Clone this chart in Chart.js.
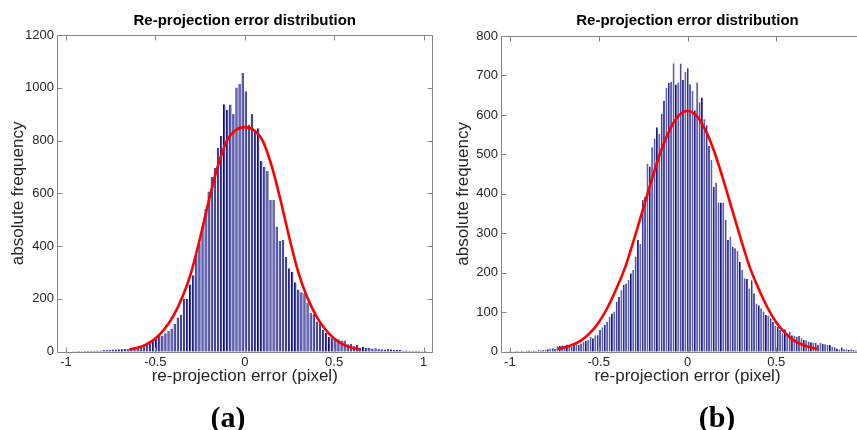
<!DOCTYPE html>
<html><head><meta charset="utf-8">
<script src="https://cdn.jsdelivr.net/npm/chart.js@4.4.1/dist/chart.umd.min.js"></script>
<style>
html,body{margin:0;padding:0;width:857px;height:430px;overflow:hidden;background:#fff;}
#ca{position:absolute;left:0;top:0;width:460px;height:430px;}
#cb{position:absolute;left:430px;top:0;width:460px;height:430px;}
.lbl{position:absolute;font-family:"Liberation Serif","Times New Roman",serif;font-weight:bold;font-size:30px;color:#000;transform:translate(-50%,-50%);line-height:1;white-space:nowrap;}
</style></head><body>
<canvas id="ca" width="460" height="430"></canvas>
<canvas id="cb" width="460" height="430"></canvas>
<div class="lbl" style="left:228px;top:417px">(a)</div>
<div class="lbl" style="left:717px;top:417px">(b)</div>
<script>
// ---- texts ----
const titleText = 'Re-projection error distribution';
const xTitleText = 're-projection error (pixel)';
const yTitleText = 'absolute frequency';

// ---- tick values / labels ----
const xTickValues = [-1, -0.5, 0, 0.5, 1];
const xTickLabels = ['-1', '-0.5', '0', '0.5', '1'];
const yTickValuesA = [0, 200, 400, 600, 800, 1000, 1200];
const yTickLabelsA = ['0', '200', '400', '600', '800', '1000', '1200'];
const yTickValuesB = [0, 100, 200, 300, 400, 500, 600, 700, 800];
const yTickLabelsB = ['0', '100', '200', '300', '400', '500', '600', '700', '800'];

// ---- histogram (a): bins ----
const firstBinA = -0.9962;
const binWidthA = 0.01728;
const countsA = [
  2,1,2,2,3,2,3,3,
  4,4,5,5,6,6,
  7,8,8,9,9,10,
  10,11,12,15,18,22,27,
  38,45,55,62,60,70,78,88,105,130,140,
  200,200,255,290,366,411,474,541,607,663,
  697,773,818,938,917,937,901,1001,1014,
  1056,
  987,860,902,842,847,723,700,685,575,575,
  474,419,423,360,316,303,263,236,225,221,
  186,148,143,114,108,82,72,57,51,44,
  47,42,42,28,30,21,25,15,18,14,
  15,12,13,10,9,8,10,9,7,6,
  7,4,5,4,3,4,3,2,3
];
// fitted curve (a)
const fitXA = [-0.645,-0.6,-0.55,-0.5,-0.45,-0.4,-0.35,-0.3,-0.25,-0.2,-0.15,-0.1,-0.05,0,0.05,0.1,0.15,0.2,0.25,0.3,0.35,0.4,0.45,0.5,0.55,0.6,0.645];
const fitYA = [8,15,28,50,85,135,205,300,430,575,705,800,840,851,840,800,705,575,430,300,205,135,85,50,28,15,8];

// ---- histogram (b): bins ----
const firstBinB = -0.9988;
const binWidthB = 0.01334;
const countsB = [
  2,1,1,2,1,2,1,2,3,2,
  3,2,4,3,5,4,6,8,9,7,
  14,15,16,14,18,13,13,17,25,17,
  21,25,27,30,38,34,42,42,55,62,
  68,76,89,97,102,127,139,156,169,173,
  182,199,207,241,283,273,385,393,477,469,
  518,540,569,552,603,635,668,681,684,731,
  677,682,730,689,709,718,678,661,612,682,
  632,644,589,574,521,486,418,428,378,378,
  378,334,283,292,266,262,256,228,207,186,
  184,160,181,148,122,118,110,102,93,91,
  85,76,66,63,55,47,57,47,51,42,
  40,38,40,34,30,29,26,24,23,22,
  17,22,20,19,17,17,13,11,8,6,
  11,6,6,4,6,4,3
];
const fitXB = [-0.73,-0.7,-0.65,-0.6,-0.55,-0.5,-0.45,-0.4,-0.35,-0.3,-0.25,-0.2,-0.15,-0.1,-0.05,0,0.05,0.1,0.15,0.2,0.25,0.3,0.35,0.4,0.45,0.5,0.55,0.6,0.65,0.7,0.73];
const fitYB = [7,10,17,28,47,74,112,160,215,286,362,438,508,562,598,610,598,562,508,438,362,286,215,160,112,74,47,28,17,10,7];

// ---- styling ----
const FONT = '"Liberation Sans", Arial, Helvetica, sans-serif';
const BOX = '#858585';

const boxPlugin = {
  id: 'boxTicks',
  afterDatasetsDraw(chart) {
    const {ctx, chartArea: a, scales} = chart;
    const L = Math.round(a.left) + 0.5, R = Math.round(a.right) - 0.5;
    const T = Math.round(a.top) + 0.5, B = Math.round(a.bottom) + 0.5;
    const len = 5;
    ctx.save();
    ctx.strokeStyle = BOX;
    ctx.lineWidth = 1;
    ctx.beginPath();
    ctx.rect(L, T, R - L, B - T);
    scales.x.ticks.forEach(t => {
      const p = Math.round(scales.x.getPixelForValue(t.value)) + 0.5;
      ctx.moveTo(p, T); ctx.lineTo(p, T + len);
      ctx.moveTo(p, B); ctx.lineTo(p, B - len);
    });
    scales.y.ticks.forEach(t => {
      const p = Math.round(scales.y.getPixelForValue(t.value)) + 0.5;
      ctx.moveTo(L, p); ctx.lineTo(L + len, p);
      ctx.moveTo(R, p); ctx.lineTo(R - len, p);
    });
    ctx.stroke();
    ctx.restore();
  }
};

function makeChart(id, cfg) {
  const bars = cfg.counts.map((v, k) => ({x: cfg.firstBin + k * cfg.binWidth, y: v}));
  const fit = cfg.fitX.map((x, k) => ({x: x, y: cfg.fitY[k]}));
  return new Chart(document.getElementById(id), {
    type: 'bar',
    data: {
      datasets: [
        {
          type: 'line', data: fit, xAxisID: 'x', yAxisID: 'y',
          borderColor: '#ff0000', borderWidth: 2.6, pointRadius: 0,
          cubicInterpolationMode: 'monotone', fill: false, order: 0
        },
        {
          type: 'bar', data: bars, xAxisID: 'x', yAxisID: 'y',
          backgroundColor: '#4545a3', borderColor: '#000078',
          borderWidth: {left: 1, top: 0, right: 0, bottom: 0}, borderSkipped: false,
          barPercentage: 1, categoryPercentage: 0.8, order: 1
        }
      ]
    },
    options: {
      responsive: false, animation: false, devicePixelRatio: 1,
      layout: {padding: {left: 0, right: cfg.padRight, top: 0, bottom: 43.1}},
      plugins: {legend: {display: false}, tooltip: {enabled: false}, title: {display: false}},
      scales: {
        x: {
          type: 'linear', position: 'bottom', min: -1.05, max: 1.05, offset: false,
          grid: {display: false, drawTicks: false, offset: false}, border: {display: false},
          afterBuildTicks(s) { s.ticks = xTickValues.map(v => ({value: v})); },
          ticks: {autoSkip: false, maxRotation: 0, padding: 3, color: '#262626',
                  font: {family: FONT, size: 13},
                  callback: (v, i) => xTickLabels[i]},
          title: {display: true, text: xTitleText, color: '#262626',
                  font: {family: FONT, size: 17}, padding: {top: 0, bottom: 0}},
          afterFit(s) { s.height = 35.2; }
        },
        xTop: {
          type: 'linear', position: 'top', min: -1.05, max: 1.05, offset: false,
          grid: {display: false, drawTicks: false}, border: {display: false},
          ticks: {display: false},
          title: {display: true, text: titleText, color: '#000',
                  font: {family: FONT, size: 15, weight: 'bold'}, padding: {top: 12, bottom: 0}},
          afterFit(s) { s.height = cfg.top; }
        },
        y: {
          type: 'linear', position: 'left', min: 0, max: cfg.yMax,
          grid: {display: false, drawTicks: false}, border: {display: false},
          afterBuildTicks(s) { s.ticks = cfg.yTicks.map(v => ({value: v})); },
          ticks: {autoSkip: false, padding: 3, color: '#262626',
                  font: {family: FONT, size: 13},
                  callback: (v, i) => cfg.yLabels[i]},
          title: {display: true, text: yTitleText, color: '#262626',
                  font: {family: FONT, size: 17}, padding: {top: cfg.yTitlePad, bottom: 0}},
          afterFit(s) { s.width = cfg.yWidth; }
        }
      }
    },
    plugins: [boxPlugin]
  });
}

makeChart('ca', {
  counts: countsA, firstBin: firstBinA, binWidth: binWidthA, fitX: fitXA, fitY: fitYA,
  yMax: 1200, yTicks: yTickValuesA, yLabels: yTickLabelsA,
  padRight: 27.5, yWidth: 57, yTitlePad: 7.8, top: 35
});
makeChart('cb', {
  counts: countsB, firstBin: firstBinB, binWidth: binWidthB, fitX: fitXB, fitY: fitYB,
  yMax: 800, yTicks: yTickValuesB, yLabels: yTickLabelsB,
  padRight: 16, yWidth: 71, yTitlePad: 22.8, top: 36
});
</script>
</body></html>
